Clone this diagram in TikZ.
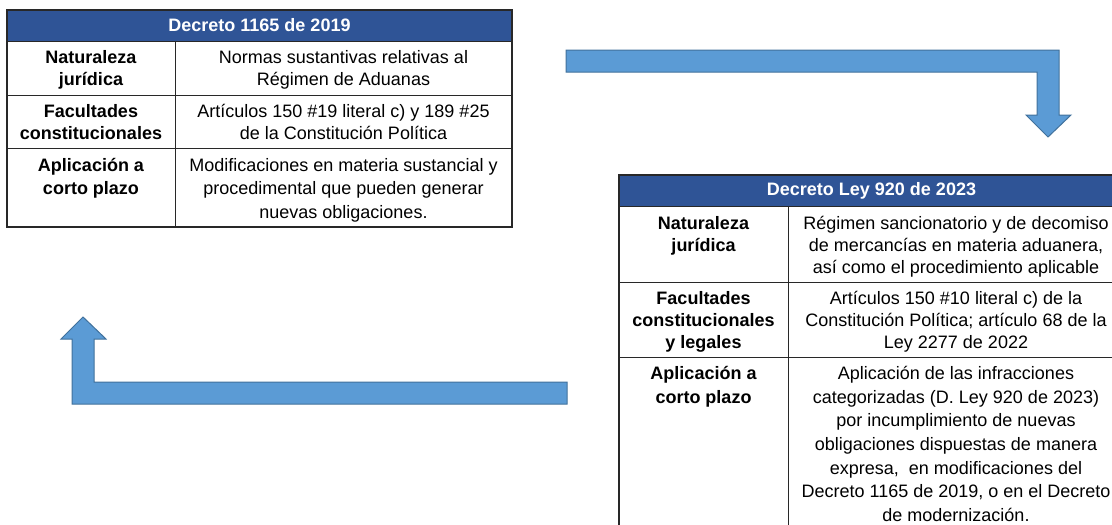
\documentclass[tikz,border=0pt]{standalone}
\usepackage{fontspec}
\setmainfont{Liberation Sans}
\definecolor{hdrblue}{RGB}{47,84,150}
\definecolor{arrfill}{RGB}{91,155,213}
\definecolor{arrline}{RGB}{65,113,156}
\definecolor{gridline}{RGB}{40,40,40}
\tikzset{
  cell/.style={anchor=north, align=center, inner sep=0pt, font=\fontsize{18}{22}\selectfont},
  cellb/.style={cell, font=\fontsize{18}{22}\selectfont\bfseries},
  hdrtext/.style={anchor=center, inner sep=0pt, text=white, font=\fontsize{18}{20}\selectfont\bfseries},
  hdrbox/.style={fill=hdrblue, draw=gridline, line width=1pt},
  tblframe/.style={draw=gridline, line width=1.2pt},
  tblline/.style={draw=gridline, line width=0.9pt},
  blockarrow/.style={fill=arrfill, draw=arrline, line width=1pt, line join=miter}
}
\begin{document}
\begin{tikzpicture}[x=1pt,y=-1pt]
\useasboundingbox (0,0) rectangle (1112,525);
\clip (0,0) rectangle (1112,525);

% ---------- Table 1 ----------
\path[hdrbox] (7,10) rectangle (512,41);
\path[tblline] (7,95) -- (512,95) (7,148) -- (512,148) (175,41) -- (175,227);
\path[tblframe] (7,10) rectangle (512,227);
\path[tblline] (7,41) -- (512,41);
\node[hdrtext] (t1h) at (259.5,25.5) {Decreto 1165 de 2019};
\node[cellb] (t1a1) at (91,50.5) {Naturaleza\\jurídica};
\node[cell]  (t1b1) at (343.5,50.5) {Normas sustantivas relativas al\\Régimen de Aduanas};
\node[cellb] (t1a2) at (91,104) {Facultades\\constitucionales};
\node[cell]  (t1b2) at (343.5,104) {Artículos 150 \#19 literal c) y 189 \#25\\de la Constitución Política};
\node[cellb, font=\fontsize{18}{23.5}\selectfont\bfseries] (t1a3) at (91,158) {Aplicación a\\corto plazo};
\node[cell, font=\fontsize{18}{23.5}\selectfont] (t1b3) at (343.5,158) {Modificaciones en materia sustancial y\\procedimental que pueden generar\\nuevas obligaciones.};

% ---------- Table 2 ----------
\path[hdrbox] (619,175) rectangle (1124,206);
\path[tblline] (619,282) -- (1124,282) (619,357) -- (1124,357) (788,206) -- (788,600);
\path[tblframe] (619,175) rectangle (1124,600);
\path[tblline] (619,206) -- (1124,206);
\node[hdrtext] (t2h) at (871.5,191) {Decreto Ley 920 de 2023};
\node[cellb] (t2a1) at (703.5,216) {Naturaleza\\jurídica};
\node[cell]  (t2b1) at (956,216) {Régimen sancionatorio y de decomiso\\de mercancías en materia aduanera,\\así como el procedimiento aplicable};
\node[cellb] (t2a2) at (703.5,291) {Facultades\\constitucionales\\y legales};
\node[cell]  (t2b2) at (956,291) {Artículos 150 \#10 literal c) de la\\Constitución Política; artículo 68 de la\\Ley 2277 de 2022};
\node[cellb, font=\fontsize{18}{23.7}\selectfont\bfseries] (t2a3) at (703.5,366) {Aplicación a\\corto plazo};
\node[cell, font=\fontsize{18}{23.7}\selectfont] (t2b3) at (956,366) {Aplicación de las infracciones\\categorizadas (D. Ley 920 de 2023)\\por incumplimiento de nuevas\\obligaciones dispuestas de manera\\expresa,\ \ en modificaciones del\\Decreto 1165 de 2019, o en el Decreto\\de modernización.};

% ---------- Block arrows ----------
\coordinate (a1start) at (566,61);
\coordinate (a1tip) at (1048,137);
\path[blockarrow] (566,50) -- (1059,50) -- (1059,115) -- (1071,115) -- (a1tip)
  -- (1026,115) -- (1037,115) -- (1037,72) -- (566,72) -- cycle;

\coordinate (a2start) at (567,393);
\coordinate (a2tip) at (83,317);
\path[blockarrow] (567,382) -- (567,404) -- (72,404) -- (72,339) -- (61,339) -- (a2tip)
  -- (106,339) -- (94,339) -- (94,382) -- cycle;
\end{tikzpicture}
\end{document}
